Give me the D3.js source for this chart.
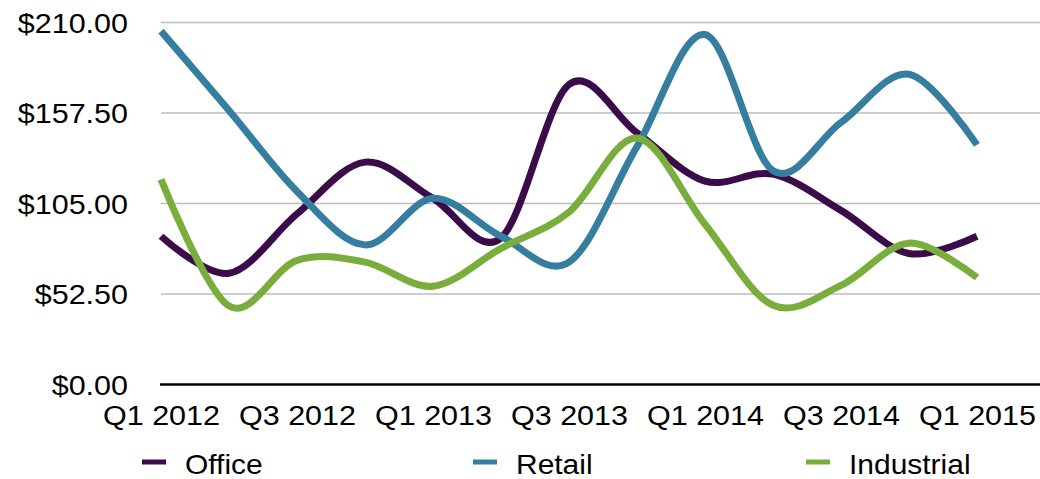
<!DOCTYPE html>
<html>
<head>
<meta charset="utf-8">
<script src="https://cdn.jsdelivr.net/npm/d3@7"></script>
<style>
  html, body { margin: 0; padding: 0; background: #fff; }
  svg text { font-family: "Liberation Sans", Arial, Helvetica, sans-serif; font-size: 28px; fill: #000; }
</style>
</head>
<body>
<svg id="chart" width="1040" height="479"></svg>
<script>
const categories = ["Q1 2012","Q2 2012","Q3 2012","Q4 2012","Q1 2013","Q2 2013","Q3 2013","Q4 2013","Q1 2014","Q2 2014","Q3 2014","Q4 2014","Q1 2015"];
const officeValues     = [86, 64.5, 99, 129, 108, 85, 174, 146, 118, 122, 101, 76, 86];
const retailValues     = [205, 159, 112, 81, 108, 86, 71, 138, 203, 124, 152, 180, 139];
const industrialValues = [119, 45.5, 72, 71, 57, 79, 100, 143, 93, 46, 57.5, 82, 62];
const seriesNames  = ["Office", "Retail", "Industrial"];
const seriesColors = ["#3c0c4a", "#367ea0", "#7aae3c"];
const yTicks = [0, 52.5, 105, 157.5, 210];
const xTickLabels = ["Q1 2012","Q3 2012","Q1 2013","Q3 2013","Q1 2014","Q3 2014","Q1 2015"];

const series = [officeValues, retailValues, industrialValues].map((v, i) => ({
  name: seriesNames[i], color: seriesColors[i], values: v
}));

const svg = d3.select("#chart");
const SX = 1.09;
const plotLeft = 161, plotRight = 1040, plotTop = 22.5, plotBottom = 384.5;

const x = d3.scalePoint().domain(categories).range([161, 977]);
const y = d3.scaleLinear().domain([0, 210]).range([plotBottom, plotTop]);

// gridlines
svg.append("g").selectAll("line")
  .data(yTicks.filter(d => d > 0))
  .join("line")
  .attr("x1", plotLeft).attr("x2", plotRight)
  .attr("y1", d => y(d)).attr("y2", d => y(d))
  .attr("stroke", "#bdbdbd").attr("stroke-width", 1.6);

// y axis labels
const yAxis = svg.append("g")
  .attr("transform", `translate(${plotLeft},0)`)
  .call(d3.axisLeft(y).tickValues(yTicks).tickSize(0)
    .tickFormat(d => "$" + d3.format(",.2f")(d)));
yAxis.select(".domain").remove();
yAxis.selectAll("text")
  .attr("x", -33 / SX).attr("dy", "0.35em")
  .attr("transform", `scale(${SX},1)`)
  .style("font-family", "'Liberation Sans', Arial, Helvetica, sans-serif")
  .style("font-size", "28px").attr("fill", "#000");

// x axis labels
const xAxis = svg.append("g")
  .attr("transform", `translate(0,${plotBottom})`)
  .call(d3.axisBottom(x).tickValues(xTickLabels).tickSize(0));
xAxis.select(".domain").remove();
xAxis.selectAll("text")
  .attr("y", 40.5).attr("dy", 0)
  .attr("transform", `scale(${SX},1)`)
  .style("font-family", "'Liberation Sans', Arial, Helvetica, sans-serif")
  .style("font-size", "28px").attr("fill", "#000");

// series lines
const line = d3.line()
  .x((d, i) => x(categories[i]))
  .y(d => y(d))
  .curve(d3.curveCatmullRom.alpha(0));

svg.append("g").selectAll("path")
  .data(series)
  .join("path")
  .attr("d", d => line(d.values))
  .attr("fill", "none")
  .attr("stroke", d => d.color)
  .attr("stroke-width", 7)
  .attr("stroke-linejoin", "round")
  .attr("stroke-linecap", "butt");

// baseline axis
svg.append("line")
  .attr("x1", 160).attr("x2", plotRight)
  .attr("y1", y(0)).attr("y2", y(0))
  .attr("stroke", "#000").attr("stroke-width", 2.5);

// legend
const legendX = [142, 473, 806];
const legend = svg.append("g").selectAll("g")
  .data(series)
  .join("g")
  .attr("transform", (d, i) => `translate(${legendX[i]},462)`);
legend.append("line")
  .attr("x1", 0).attr("x2", 24).attr("y1", 0).attr("y2", 0)
  .attr("stroke", d => d.color).attr("stroke-width", 5);
legend.append("text")
  .attr("transform", `translate(43,11.5) scale(${SX},1)`)
  .style("font-size", "27.5px")
  .text(d => d.name);
</script>
</body>
</html>
